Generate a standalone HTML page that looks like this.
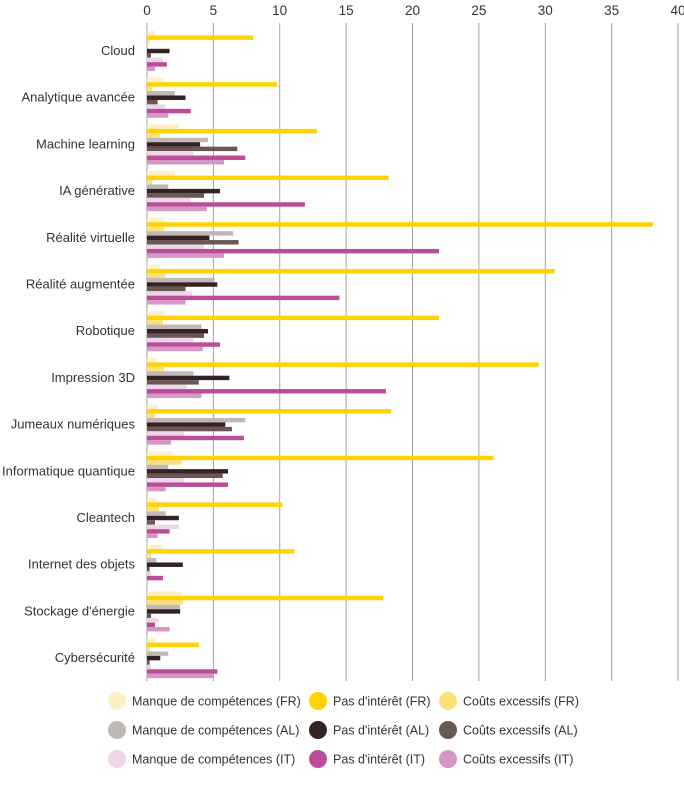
<!DOCTYPE html>
<html><head><meta charset="utf-8"><style>
body{margin:0;background:#fff}
svg{display:block;font-family:"Liberation Sans",sans-serif}
</style></head><body>
<svg id="c" width="684" height="800" viewBox="0 0 684 800">
<g id="grid" stroke="#a0a0a0" stroke-width="1"></g>
<g font-size="13.5" fill="#333" text-anchor="middle">
<text x="147" y="15">0</text><text x="213.4" y="15">5</text><text x="279.7" y="15">10</text><text x="346.1" y="15">15</text><text x="412.5" y="15">20</text><text x="478.9" y="15">25</text><text x="545.3" y="15">30</text><text x="611.6" y="15">35</text><text x="678" y="15">40</text>
</g>
<g id="bars"></g>
<g font-size="13" fill="#333" text-anchor="end">
<text x="135" y="55">Cloud</text>
<text x="135" y="101.7">Analytique avancée</text>
<text x="135" y="148.4">Machine learning</text>
<text x="135" y="195.1">IA générative</text>
<text x="135" y="241.8">Réalité virtuelle</text>
<text x="135" y="288.5">Réalité augmentée</text>
<text x="135" y="335.2">Robotique</text>
<text x="135" y="381.9">Impression 3D</text>
<text x="135" y="428.6">Jumeaux numériques</text>
<text x="135" y="475.3">Informatique quantique</text>
<text x="135" y="522">Cleantech</text>
<text x="135" y="568.7">Internet des objets</text>
<text x="135" y="615.4">Stockage d'énergie</text>
<text x="135" y="662.1">Cybersécurité</text>
</g>
<g font-size="12.5" fill="#333">
<circle cx="117" cy="701" r="9" fill="#fdf0c6"/><text x="132" y="705.5">Manque de compétences (FR)</text>
<circle cx="318" cy="701" r="9" fill="#ffd200"/><text x="333" y="705.5">Pas d'intérêt (FR)</text>
<circle cx="448" cy="701" r="9" fill="#fde07a"/><text x="463" y="705.5">Coûts excessifs (FR)</text>
<circle cx="117" cy="730" r="9" fill="#c2b7b7"/><text x="132" y="734.5">Manque de compétences (AL)</text>
<circle cx="318" cy="730" r="9" fill="#352223"/><text x="333" y="734.5">Pas d'intérêt (AL)</text>
<circle cx="448" cy="730" r="9" fill="#6b5656"/><text x="463" y="734.5">Coûts excessifs (AL)</text>
<circle cx="117" cy="759" r="9" fill="#eed5ea"/><text x="132" y="763.5">Manque de compétences (IT)</text>
<circle cx="318" cy="759" r="9" fill="#bb4d97"/><text x="333" y="763.5">Pas d'intérêt (IT)</text>
<circle cx="448" cy="759" r="9" fill="#d597c5"/><text x="463" y="763.5">Coûts excessifs (IT)</text>
</g>
</svg>
<script>
var cols=["#fdf0c6","#ffd200","#fde07a","#c2b7b7","#352223","#6b5656","#eed5ea","#bb4d97","#d597c5"];
var d=[
[0.6,8,0.2,0,1.7,0.3,1.2,1.5,0.6],
[1.2,9.8,0.4,2.1,2.9,0.8,1.4,3.3,1.6],
[2.4,12.8,1.0,4.6,4.0,6.8,3.5,7.4,5.8],
[2.1,18.2,0.4,1.6,5.5,4.3,3.3,11.9,4.5],
[1.3,38.1,1.3,6.5,4.7,6.9,4.3,22,5.8],
[1.0,30.7,1.4,5.1,5.3,2.9,3.4,14.5,2.9],
[1.3,22,1.2,4.1,4.6,4.3,3.5,5.5,4.2],
[0.7,29.5,1.3,3.5,6.2,3.9,3.0,18,4.1],
[0.8,18.4,0.6,7.4,5.9,6.4,2.8,7.3,1.8],
[1.9,26.1,2.6,1.6,6.1,5.7,2.8,6.1,1.4],
[0.7,10.2,0.9,1.4,2.4,0.6,2.4,1.7,0.8],
[1.2,11.1,0.3,0.7,2.7,0.2,0.3,1.2,0],
[2.6,17.8,2.7,2.5,2.5,0.3,0.9,0.6,1.7],
[0.6,3.9,0.2,1.6,1.0,0.2,0.3,5.3,5.0]];
var ns="http://www.w3.org/2000/svg",s=13.275,x0=147;
var g=document.getElementById("grid");
for(var k=0;k<=8;k++){var l=document.createElementNS(ns,"line");var x=x0+k*5*s;l.setAttribute("x1",x);l.setAttribute("x2",x);l.setAttribute("y1",23);l.setAttribute("y2",681);g.appendChild(l);}
var b=document.getElementById("bars");
d.forEach(function(r,i){var top=31+i*46.7;r.forEach(function(v,j){if(v<=0)return;var e=document.createElementNS(ns,"rect");e.setAttribute("x",x0);e.setAttribute("y",top+j*4.45);e.setAttribute("width",v*s);e.setAttribute("height",4.45);e.setAttribute("fill",cols[j]);b.appendChild(e);});});
</script>
</body></html>
